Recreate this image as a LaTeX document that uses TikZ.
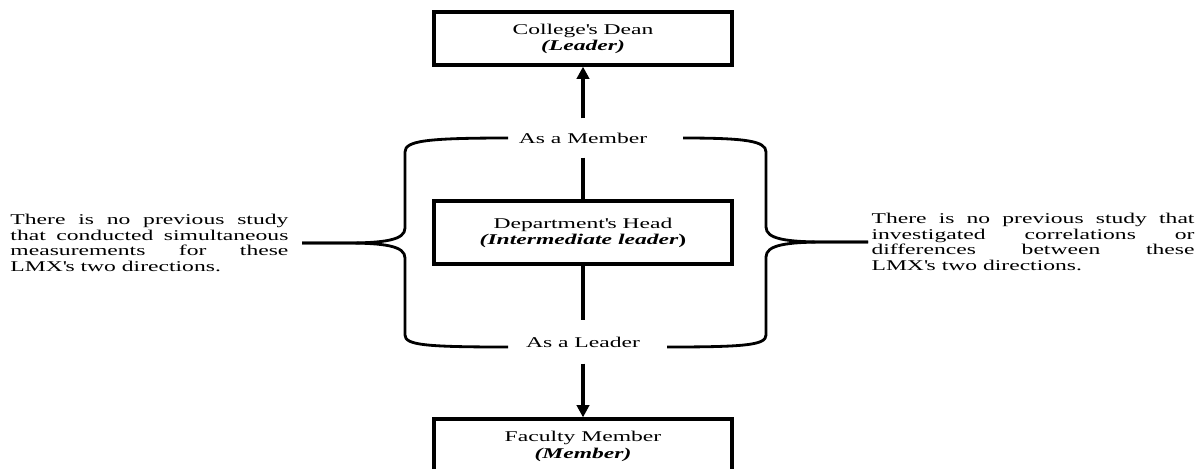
\documentclass[tikz,border=0pt]{standalone}
\usepackage{fontspec}
\setmainfont{Liberation Serif}[FakeStretch=1.58]
\usepackage{tikz}
\usetikzlibrary{positioning}
\usetikzlibrary{arrows.meta}
\pretolerance=10000

\begin{document}
\begin{tikzpicture}[
            > = {Triangle[length=7pt, width=7pt]}, % arrow head style
            x = 0.02cm, y = -0.02cm, % one unit per pixel, y going down
            line width = 1.8pt % line style
        ]

        \tikzstyle{box}=[
            draw,
            minimum width = 5.96cm,
            align = center,
            font = \fontsize{8.5}{9.2}\selectfont
        ]
        \tikzstyle{role}=[
            inner sep = 0pt,
            font = \fontsize{8.5}{9.2}\selectfont
        ]
        \tikzstyle{note}=[
            inner sep = 0pt,
            align = justify,
            font = \fontsize{8.5}{8.8}\selectfont
        ]
        \tikzstyle{brace}=[line width = 1.6pt, line join = round]

    \useasboundingbox (0,0) rectangle (1196,468);
    \clip (0,0) rectangle (1196,468);

% middle level
        \node[box, minimum height = 1.26cm] (DEPT) at (583,232.5) {Department\textquotesingle s Head\\ \textbf{\textit{(Intermediate leader})}};

        \node[role, minimum height = 0.72cm, node distance = 1.89cm] (MEMBER) [above of = DEPT] {As a Member};
        \node[role, minimum height = 0.8cm, node distance = 2.19cm] (LEADER) [below of = DEPT] {As a Leader};

% upper and lower level
        \node[box, minimum height = 1.06cm, node distance = 1.99cm] (DEAN) [above of = MEMBER] {College\textquotesingle s Dean\\ \textbf{\textit{(Leader)}}};
        \node[box, minimum height = 1.1cm, node distance = 2.09cm] (FACULTY) [below of = LEADER] {Faculty Member\\ \textbf{\textit{(Member)}}};

        \path[->] (MEMBER) edge (DEAN);
        \path (MEMBER) edge (DEPT);
        \path (DEPT) edge (LEADER);
        \path[->] (LEADER) edge (FACULTY);

% braces
        \coordinate (LTIP) at (302,243);
        \coordinate (RTIP) at (868,242);

        \draw[brace] (LTIP) -- (345,243) .. controls (385,243) and (405,240) .. (405,228) -- (405,152) .. controls (405,141) and (425,138) .. (508,138);
        \draw[brace] (LTIP) -- (345,243) .. controls (385,243) and (405,246) .. (405,258) -- (405,335) .. controls (405,345) and (425,347) .. (508,347);
        \draw[brace] (RTIP) -- (826,242) .. controls (786,242) and (766,239) .. (766,227) -- (766,152) .. controls (766,141) and (746,138) .. (683,138);
        \draw[brace] (RTIP) -- (826,242) .. controls (786,242) and (766,245) .. (766,257) -- (766,335) .. controls (766,345) and (746,347) .. (667,347);

        \node[note, text width = 5.56cm, left = 0.24cm of LTIP] (GAPL) {There is no previous study\linebreak that conducted simultaneous\linebreak measurements for these\linebreak LMX\textquotesingle s two directions.};
        \node[note, text width = 6.46cm, right = 0.04cm of RTIP] (GAPR) {There is no previous study that\linebreak investigated correlations or\linebreak differences between these\linebreak LMX\textquotesingle s two directions.};

  \end{tikzpicture}
\end{document}
